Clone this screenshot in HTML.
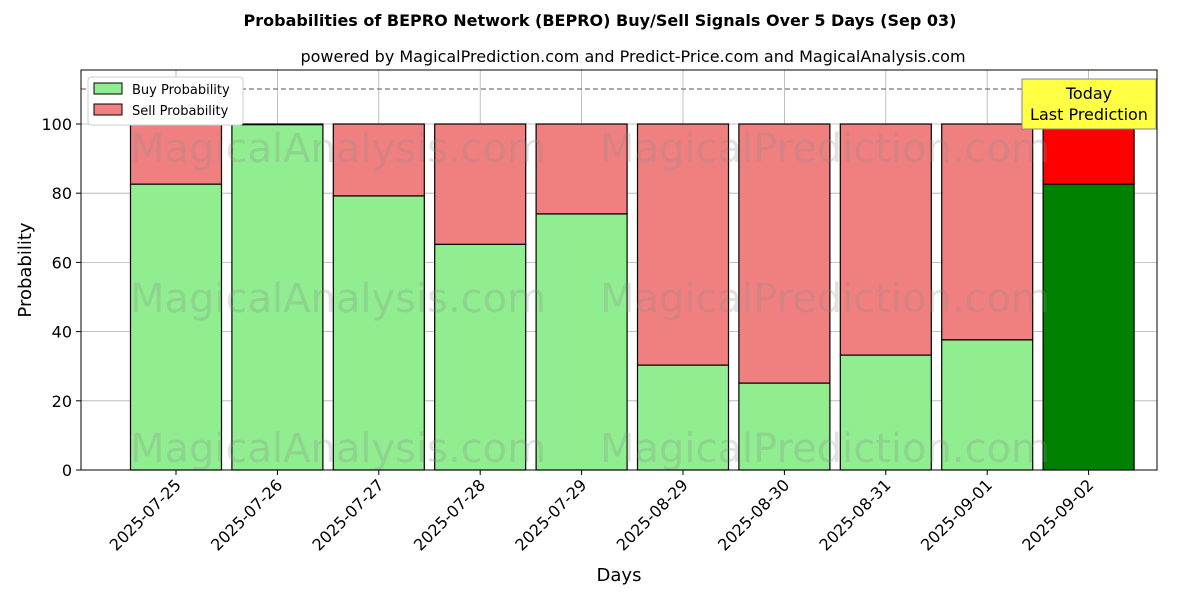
<!DOCTYPE html>
<html><head><meta charset="utf-8"><style>
body{margin:0;background:#fff;font-family:"Liberation Sans","DejaVu Sans",sans-serif;}
svg text{font-family:"DejaVu Sans","Liberation Sans",sans-serif;}
</style></head><body>
<svg id="chart" width="1200" height="600" xmlns="http://www.w3.org/2000/svg">
<rect width="1200" height="600" fill="#fff"/>
<text x="600" y="26" text-anchor="middle" font-size="16" font-weight="bold">Probabilities of BEPRO Network (BEPRO) Buy/Sell Signals Over 5 Days (Sep 03)</text>
<text x="633" y="62" text-anchor="middle" font-size="16">powered by MagicalPrediction.com and Predict-Price.com and MagicalAnalysis.com</text>
<g id="grid"></g>
<g id="bars"></g>
<g font-size="40" fill="#8a8a8a" opacity="0.25">
<text x="130" y="162">MagicalAnalysis.com</text><text x="600" y="162">MagicalPrediction.com</text>
<text x="130" y="312">MagicalAnalysis.com</text><text x="600" y="312">MagicalPrediction.com</text>
<text x="130" y="462">MagicalAnalysis.com</text><text x="600" y="462">MagicalPrediction.com</text>
</g>
<line x1="81" x2="1157" y1="89" y2="89" stroke="#777" stroke-dasharray="5,3" stroke-width="1.2"/>
<rect x="81" y="70" width="1076" height="400" fill="none" stroke="#000" stroke-width="1"/>
<g id="axes"></g>
<text x="31" y="270" text-anchor="middle" font-size="18" transform="rotate(-90 31 270)">Probability</text>
<text x="619" y="581" text-anchor="middle" font-size="18">Days</text>
<g>
<rect x="88" y="77" width="155" height="48" fill="#fff" stroke="#ccc" rx="3"/>
<rect x="94" y="83" width="28" height="11" fill="#90ee90" stroke="#000"/>
<text x="132" y="94" font-size="13">Buy Probability</text>
<rect x="94" y="104" width="28" height="11" fill="#f08080" stroke="#000"/>
<text x="132" y="115" font-size="13">Sell Probability</text>
</g>
<g>
<rect x="1022" y="79" width="134" height="50" fill="#ffff44" stroke="#888"/>
<text x="1089" y="99" text-anchor="middle" font-size="16">Today</text>
<text x="1089" y="120" text-anchor="middle" font-size="16">Last Prediction</text>
</g>
</svg>
<script>
const categories=["2025-07-25","2025-07-26","2025-07-27","2025-07-28","2025-07-29","2025-08-29","2025-08-30","2025-08-31","2025-09-01","2025-09-02"];
const buyValues=[82.6,99.8,79.2,65.2,74.0,30.3,25.1,33.2,37.6,82.6];
const yTicks=[0,20,40,60,80,100];
const NS="http://www.w3.org/2000/svg";
const x0=176,step=101.4,bw=91;
const xPos=i=>x0+i*step;
const yPos=v=>470-v*3.46;
function mk(tag,attrs,parent){const e=document.createElementNS(NS,tag);for(const k in attrs)e.setAttribute(k,attrs[k]);parent.appendChild(e);return e;}
const grid=document.getElementById('grid'),bars=document.getElementById('bars'),axes=document.getElementById('axes');
yTicks.forEach(t=>{
 const l=mk('line',{x1:81,x2:1157,y1:yPos(t),y2:yPos(t),stroke:'#b0b0b0','stroke-width':0.8},grid);
 
 
 mk('line',{x1:76,x2:81,y1:yPos(t),y2:yPos(t),stroke:'#000'},axes);
 const tx=mk('text',{x:72,y:yPos(t)+6,'text-anchor':'end','font-size':16},axes);tx.textContent=t;
 
 
});
categories.forEach((c,i)=>{
 const x=xPos(i),last=i===categories.length-1;
 const g=mk('line',{x1:x,x2:x,y1:70,y2:470,stroke:'#b0b0b0','stroke-width':0.8},grid);
 
 
 const s=mk('rect',{x:x-bw/2,y:yPos(100),width:bw,height:yPos(buyValues[i])-yPos(100),fill:last?'#ff0000':'#f08080',stroke:'#000','stroke-width':1.2},bars);
 
 
 const b=mk('rect',{x:x-bw/2,y:yPos(buyValues[i]),width:bw,height:470-yPos(buyValues[i]),fill:last?'#008000':'#90ee90',stroke:'#000','stroke-width':1.2},bars);
 
 
 mk('line',{x1:x,x2:x,y1:470,y2:475,stroke:'#000'},axes);
 const t=mk('text',{x:x+6,y:486,'text-anchor':'end','font-size':16,transform:`rotate(-45 ${x+6} 486)`},axes);t.textContent=c;
 
 
});
</script>
</body></html>
